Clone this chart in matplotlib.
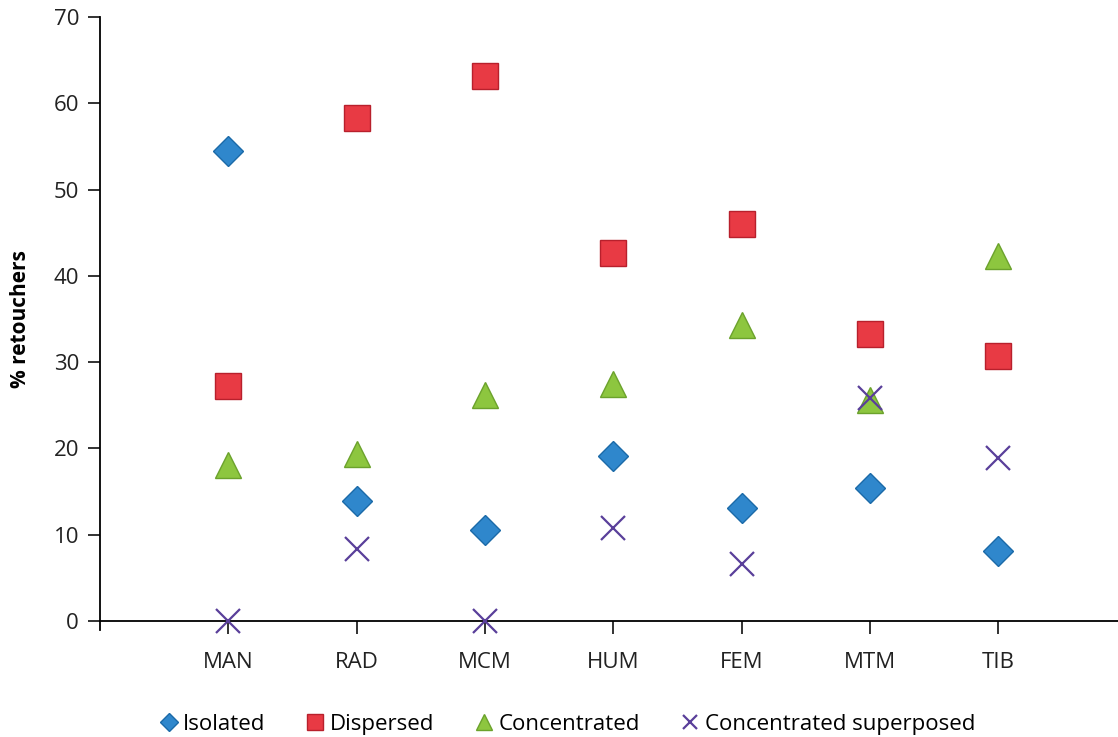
import matplotlib.pyplot as plt

categorias = ['MAN', 'RAD', 'MCM', 'HUM', 'FEM', 'MTM', 'TIB']
isolated = [54.5, 13.9, 10.5, 19.1, 13.1, 15.4, 8.1]
dispersed = [27.2, 58.3, 63.2, 42.6, 46.0, 33.3, 30.7]
concentrated = [18.1, 19.4, 26.2, 27.5, 34.3, 25.6, 42.3]
superposed = [0.0, 8.3, 0.0, 10.8, 6.6, 25.8, 18.9]

plt.rcParams['font.family'] = ['Open Sans', 'DejaVu Sans']

fig = plt.figure(figsize=(11.18, 7.37), dpi=100)
ax = fig.add_axes([0.0894, 0.1574, 0.915, 0.8196])

x = list(range(1, len(categorias) + 1))

ax.plot(x, isolated, linestyle='none', marker='D', markersize=15,
        markerfacecolor='#2f87cc', markeredgecolor='#1b6aa8', markeredgewidth=1,
        label='Isolated', zorder=3)
ax.plot(x, dispersed, linestyle='none', marker='s', markersize=19,
        markerfacecolor='#e83a44', markeredgecolor='#b8202c', markeredgewidth=1,
        label='Dispersed', zorder=3)
ax.plot(x, concentrated, linestyle='none', marker='^', markersize=19,
        markerfacecolor='#8dc63f', markeredgecolor='#6ba22c', markeredgewidth=1,
        label='Concentrated', zorder=3)
ax.plot(x, superposed, linestyle='none', marker='x', markersize=17,
        markeredgecolor='#5a3f9a', markeredgewidth=1.6,
        label='Concentrated superposed', zorder=4, clip_on=False)

ax.set_xlim(0, 7.97)
ax.set_ylim(0, 70)
ax.set_xticks(x)
ax.set_xticklabels(categorias)
ax.set_yticks(range(0, 71, 10))

ax.spines['top'].set_visible(False)
ax.spines['right'].set_visible(False)
ax.spines['left'].set_linewidth(1.3)
ax.spines['bottom'].set_linewidth(1.3)
ax.spines['left'].set_bounds(-1, 70)
ax.tick_params(axis='both', direction='out', length=9, width=1.3,
               labelsize=16, colors='#222222')
ax.tick_params(axis='x', pad=13)
ax.tick_params(axis='y', pad=6)

ax.set_ylabel('% retouchers', fontsize=15, fontweight='bold', labelpad=16)

fig.legend(loc='lower center', bbox_to_anchor=(0.506, -0.024), ncol=4,
           frameon=False, fontsize=16, handletextpad=0.1, columnspacing=1.7,
           handlelength=1.1, markerscale=0.62)

plt.savefig('out.png')
